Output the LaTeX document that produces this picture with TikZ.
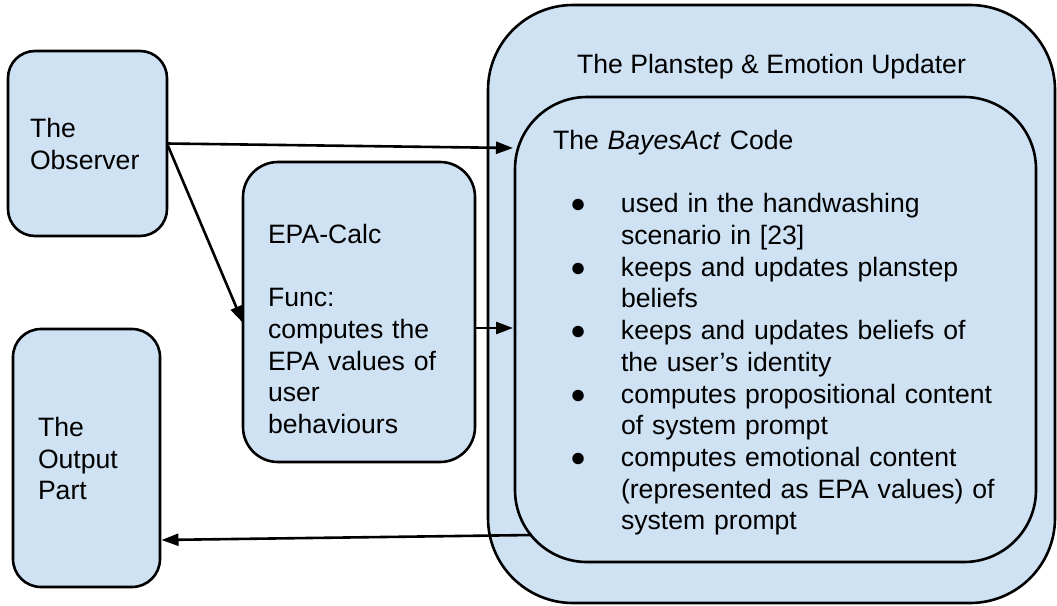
\documentclass[tikz,border=0pt]{standalone}
\usepackage{fontspec}
\setmainfont{Liberation Sans}
\usetikzlibrary{arrows.meta}
\definecolor{boxblue}{HTML}{CFE2F3}
\newcommand\tstr{\rule{0pt}{26pt}}
\newcommand\bstr{\rule[-5.7pt]{0pt}{5.7pt}}
\newcommand\bul{\makebox[68pt][l]{\hspace{17pt}●}}
\newcommand\ind{\hspace*{68pt}}
\begin{document}
\begin{tikzpicture}[x=1pt,y=-1pt,
  box/.style={draw=black, line width=2.6pt, fill=boxblue, inner sep=0pt, outer sep=0pt,
    font=\fontsize{26.6}{31.7}\selectfont, align=left},
  conn/.style={line width=2.6pt, -{Triangle[length=17pt,width=12pt]}},
  txt/.style={font=\fontsize{26.6}{31.7}\selectfont, inner sep=0pt}]
\useasboundingbox (0,0) rectangle (1057,605);
% outer container
\node[box, minimum width=567pt, minimum height=598pt, rounded corners=85pt] (outer) at (771.5,304) {};
\node[txt, anchor=base] (title) at (771.5,73) {The Planstep \& Emotion Updater};
% inner box
\node[box, minimum width=521pt, minimum height=465pt, rounded corners=72pt, text width=445pt] (inner) at (775.5,329.5)
 {\tstr The \textit{BayesAct} Code\\[31.7pt]
  \bul used in the handwashing\\
  \ind scenario in [23]\\
  \bul keeps and updates planstep\\
  \ind beliefs\\
  \bul keeps and updates beliefs of\\
  \ind the user’s identity\\
  \bul computes propositional content\\
  \ind of system prompt\\
  \bul computes emotional content\\
  \ind (represented as EPA values) of\\
  \ind system prompt\bstr};
% left boxes
\node[box, minimum width=159pt, minimum height=185pt, rounded corners=27pt, text width=115pt] (obs) at (87.5,143.5)
 {\tstr The\\ Observer\bstr};
\node[box, minimum width=232pt, minimum height=300pt, rounded corners=35pt, text width=182pt] (epa) at (359,312)
 {\rule{0pt}{58.6pt}EPA-Calc\\[31.7pt] Func:\\ computes the\\ EPA values of\\ user\\ behaviours\bstr};
\node[box, minimum width=147pt, minimum height=258pt, rounded corners=28pt, text width=97pt] (out) at (86.5,458)
 {\tstr The\\ Output\\ Part\bstr};
% connectors
\coordinate (a1end) at (513,148);
\coordinate (a4start) at (532,535);
\draw[conn] (obs.east) -- (a1end);
\draw[conn] (obs.east) -- ([yshift=-11pt]epa.west);
\draw[conn, shorten >=2pt] ([yshift=-16pt]epa.east) -- ([yshift=-16pt]epa.east -| inner.west);
\draw[conn, shorten >=1.5pt] (a4start) -- ([yshift=-82pt]out.east);
\end{tikzpicture}
\end{document}
